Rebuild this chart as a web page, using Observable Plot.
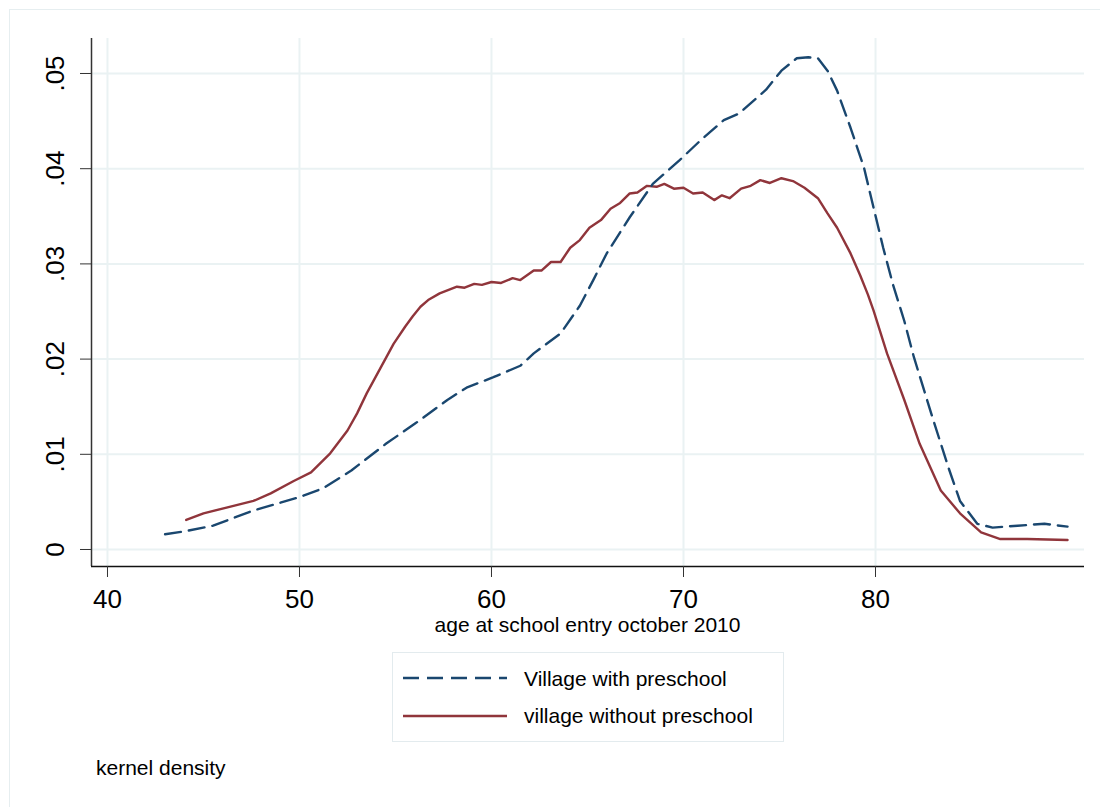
<!DOCTYPE html>
<html>
<head>
<meta charset="utf-8">
<script src="https://cdn.jsdelivr.net/npm/d3@7"></script>
<script src="https://cdn.jsdelivr.net/npm/@observablehq/plot@0.6"></script>
<style>
  html, body { margin: 0; padding: 0; background: #fff; }
  #wrap { position: relative; width: 1100px; height: 807px; overflow: hidden; }
  #frame { position: absolute; left: 9px; top: 9px; width: 1200px; height: 900px;
           border-left: 1px solid #e6eef0; border-top: 1px solid #e6eef0; }
  #chart { position: absolute; left: 0; top: 0; }
</style>
</head>
<body>
<div id="wrap"><div id="frame"></div><div id="chart"></div></div>
<script>
// ---- data ----
const seriesNames = ["Village with preschool", "village without preschool"];
const seriesColors = ["#1a476f", "#90353b"];
const seriesDash = ["16,8", null];

const withX = [43.0, 44.0, 45.5, 47.6, 50.0, 51.2, 52.7, 54.5, 56.0, 57.7, 58.7, 60.1, 61.5, 62.2, 63.6, 64.6, 65.3, 66.0, 67.2, 68.4, 69.8, 70.9, 72.1, 72.9, 74.3, 75.1, 75.9, 76.5, 77.0, 77.5, 78.0, 78.7, 79.4, 79.9, 80.4, 80.9, 81.5, 82.0, 82.9, 83.8, 84.4, 85.3, 86.1, 87.4, 88.8, 90.0];
const withY = [0.0016, 0.0019, 0.0025, 0.0041, 0.0055, 0.0064, 0.0083, 0.0111, 0.0132, 0.0157, 0.0170, 0.0181, 0.0193, 0.0206, 0.0227, 0.0256, 0.0283, 0.0311, 0.0349, 0.0384, 0.0409, 0.0430, 0.0451, 0.0458, 0.0483, 0.0503, 0.0516, 0.0517, 0.0516, 0.0503, 0.0482, 0.0443, 0.0401, 0.0359, 0.0317, 0.0279, 0.0240, 0.0202, 0.0143, 0.0086, 0.0051, 0.0027, 0.0023, 0.0025, 0.0027, 0.0024];

const withoutX = [44.1, 45.0, 46.2, 47.6, 48.5, 49.7, 50.6, 51.6, 52.5, 53.0, 53.5, 54.2, 54.9, 55.5, 55.9, 56.3, 56.7, 57.3, 58.2, 58.6, 59.1, 59.5, 60.0, 60.5, 61.1, 61.5, 62.2, 62.6, 63.1, 63.6, 64.1, 64.6, 65.1, 65.7, 66.2, 66.7, 67.2, 67.6, 68.1, 68.6, 69.0, 69.5, 70.0, 70.5, 71.0, 71.6, 72.0, 72.4, 73.0, 73.5, 74.0, 74.5, 75.1, 75.7, 76.3, 77.0, 77.5, 78.0, 78.7, 79.2, 79.6, 79.9, 80.6, 81.5, 82.3, 83.4, 84.4, 85.5, 86.5, 87.9, 90.0];
const withoutY = [0.0031, 0.0038, 0.0044, 0.0051, 0.0059, 0.0072, 0.0081, 0.0101, 0.0125, 0.0143, 0.0164, 0.0190, 0.0216, 0.0234, 0.0245, 0.0255, 0.0262, 0.0269, 0.0276, 0.0275, 0.0279, 0.0278, 0.0281, 0.0280, 0.0285, 0.0283, 0.0293, 0.0293, 0.0302, 0.0302, 0.0317, 0.0325, 0.0338, 0.0346, 0.0358, 0.0364, 0.0374, 0.0375, 0.0382, 0.0381, 0.0384, 0.0379, 0.0380, 0.0374, 0.0375, 0.0367, 0.0372, 0.0369, 0.0379, 0.0382, 0.0388, 0.0385, 0.0390, 0.0387, 0.0380, 0.0369, 0.0353, 0.0338, 0.0311, 0.0288, 0.0268, 0.0251, 0.0206, 0.0157, 0.0111, 0.0062, 0.0038, 0.0018, 0.0011, 0.0011, 0.0010];

const xTicks = [40, 50, 60, 70, 80];
const xTickLabels = ["40", "50", "60", "70", "80"];
const yTicks = [0, 0.01, 0.02, 0.03, 0.04, 0.05];
const yTickLabels = ["0", ".01", ".02", ".03", ".04", ".05"];
const xTitle = "age at school entry october 2010";
const note = "kernel density";

const xDomain = [39.167, 90.885];
const yDomain = [-0.001786, 0.053676];

// ---- build ----
const rows = [
  ...withX.map((x, i) => ({x, y: withY[i], s: seriesNames[0]})),
  ...withoutX.map((x, i) => ({x, y: withoutY[i], s: seriesNames[1]}))
];
const FONT = "'Liberation Sans', Arial, Helvetica, sans-serif";

const chart = Plot.plot({
  width: 1100, height: 807,
  marginLeft: 91, marginRight: 16, marginTop: 38, marginBottom: 241,
  style: {fontFamily: FONT, fontSize: "26px", color: "#000", background: "transparent"},
  x: {domain: xDomain},
  y: {domain: yDomain},
  marks: [
    Plot.gridX(xTicks, {stroke: "#eaf2f3", strokeOpacity: 1, strokeWidth: 2}),
    Plot.gridY(yTicks, {stroke: "#eaf2f3", strokeOpacity: 1, strokeWidth: 2}),
    Plot.ruleX([xDomain[0]], {stroke: "#333", strokeWidth: 1.5}),
    Plot.ruleY([yDomain[0]], {stroke: "#111", strokeWidth: 1.5}),
    Plot.axisX(xTicks, {tickSize: 11, tickPadding: 12, fontSize: 26, stroke: "#333",
      tickFormat: (d) => xTickLabels[xTicks.indexOf(d)], label: null}),
    Plot.axisY(yTicks, {tickSize: 11, tickFormat: () => "", label: null, stroke: "#333"}),
    Plot.text(yTicks, {y: (d) => d, frameAnchor: "left", dx: -36, rotate: -90,
      text: (d, i) => yTickLabels[i], fontSize: 26, textAnchor: "middle", lineAnchor: "middle", fill: "#000"}),
    Plot.line(rows.filter(d => d.s === seriesNames[1]), {x: "x", y: "y",
      stroke: seriesColors[1], strokeWidth: 2.4}),
    Plot.line(rows.filter(d => d.s === seriesNames[0]), {x: "x", y: "y",
      stroke: seriesColors[0], strokeWidth: 2.4, strokeDasharray: seriesDash[0]})
  ]
});
document.getElementById("chart").appendChild(chart);

// extra text + legend
const svg = d3.select(chart);
const g = svg.append("g").attr("font-family", FONT).attr("fill", "#000").attr("text-anchor", "start");
g.append("text").attr("x", 587.5).attr("y", 632).attr("text-anchor", "middle")
  .attr("font-size", 21).text(xTitle);
g.append("rect").attr("x", 392.5).attr("y", 652.5).attr("width", 391).attr("height", 89)
  .attr("fill", "#fff").attr("stroke", "#e3ebee").attr("stroke-width", 1);
const ly = [678, 716], ty = [686, 723];
seriesNames.forEach((name, i) => {
  g.append("line").attr("x1", 403).attr("x2", 507).attr("y1", ly[i]).attr("y2", ly[i])
    .attr("stroke", seriesColors[i]).attr("stroke-width", 2.6)
    .attr("stroke-dasharray", seriesDash[i]);
  g.append("text").attr("x", 524).attr("y", ty[i]).attr("text-anchor", "start")
    .attr("font-size", 21).text(name);
});
g.append("text").attr("x", 96).attr("y", 775).attr("text-anchor", "start")
  .attr("font-size", 21).text(note);
</script>
</body>
</html>
